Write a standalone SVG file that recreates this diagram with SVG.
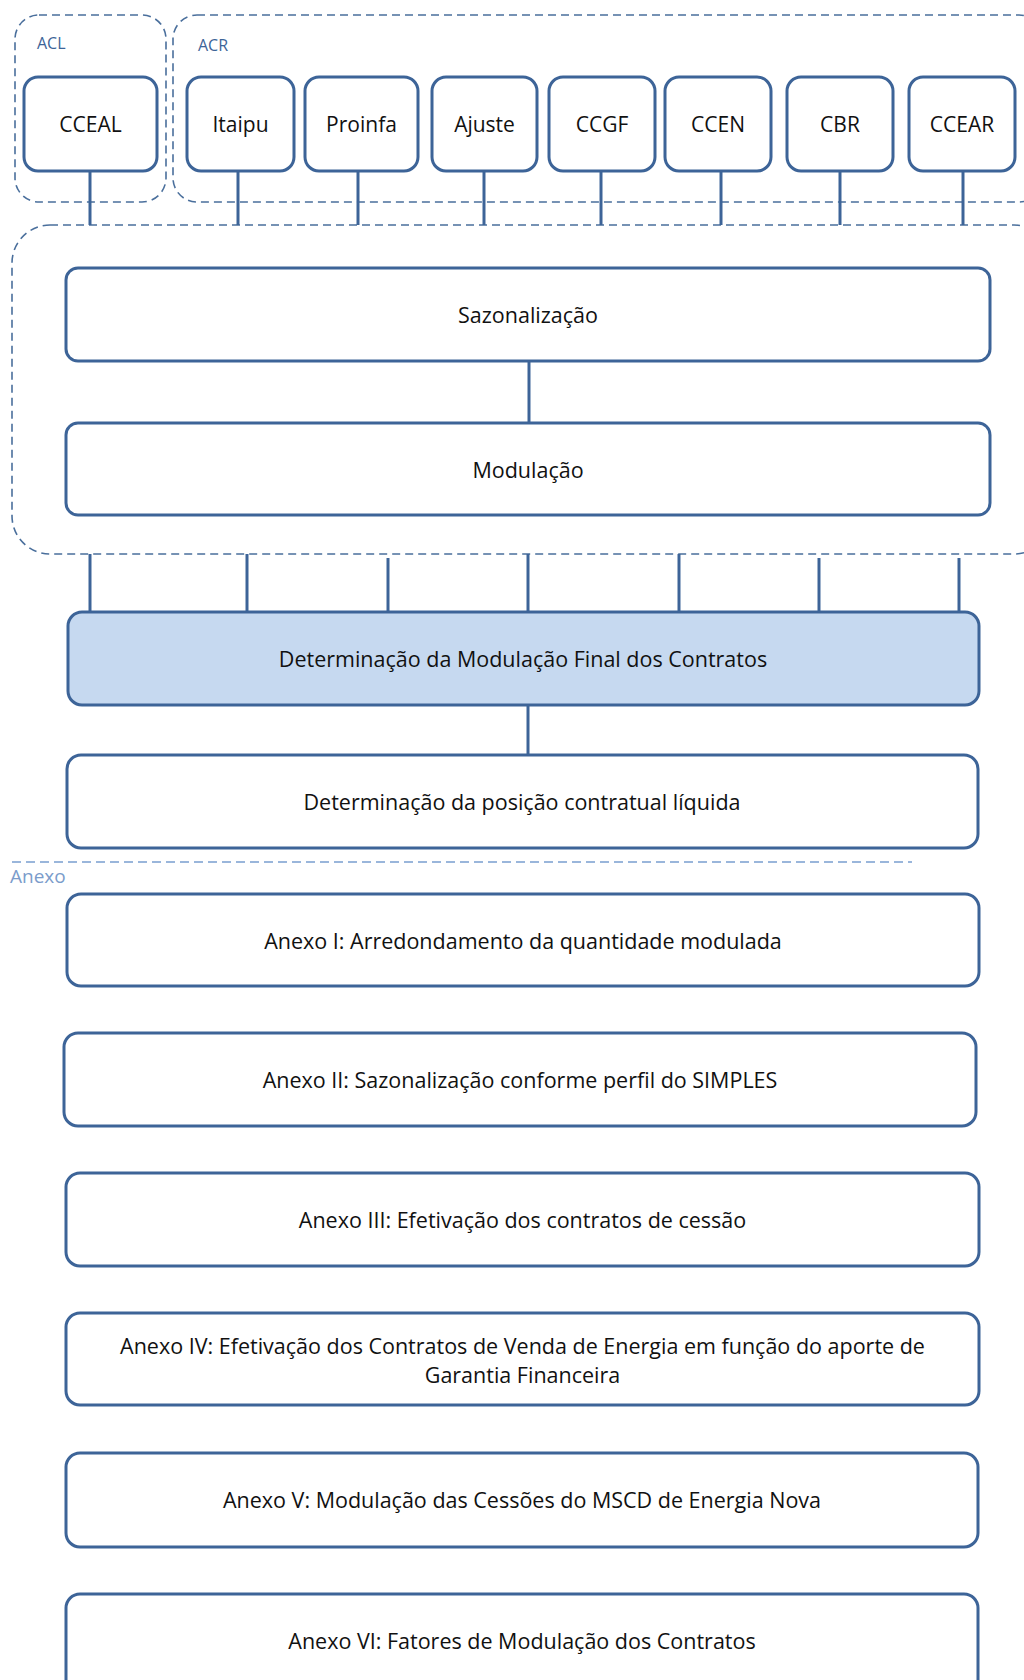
<svg xmlns="http://www.w3.org/2000/svg" width="1024" height="1680" viewBox="0 0 1024 1680">
<style>
.node{fill:#fff;stroke:#3d6498;stroke-width:3}
.hl{fill:#c6d9f0}
.grp{fill:none;stroke:#4a6f9c;stroke-width:1.6;stroke-dasharray:8 5}
.sep{fill:none;stroke:#9ab6db;stroke-width:2;stroke-dasharray:9 5}
.conn{stroke:#3d6498;stroke-width:3;fill:none}
.t{font-family:"Open Sans","Liberation Sans",sans-serif;font-size:21.5px;fill:#111;text-anchor:middle;dominant-baseline:central}
.s{font-size:21px}
.lbl{font-family:"Open Sans","Liberation Sans",sans-serif;font-size:16px;fill:#3d6498}
</style>
<rect width="1024" height="1680" fill="#fff"/>
<g id="groups">
<rect id="grp-acl" class="grp" x="15" y="15" width="151" height="187" rx="24"/>
<text class="lbl" x="37" y="49">ACL</text>
<rect id="grp-acr" class="grp" x="173" y="15" width="870" height="187" rx="24"/>
<text class="lbl" x="198" y="51">ACR</text>
<rect id="grp-proc" class="grp" x="12" y="225" width="1040" height="329" rx="38"/>
<line class="sep" x1="12" y1="862" x2="912" y2="862"/>
<text x="10" y="883" style="font-family:'Open Sans','Liberation Sans',sans-serif;font-size:19px;fill:#7b9ccb">Anexo</text>
</g>
<g id="connectors">
<line class="conn" x1="90" y1="171" x2="90" y2="225"/>
<line class="conn" x1="238" y1="171" x2="238" y2="225"/>
<line class="conn" x1="358" y1="171" x2="358" y2="225"/>
<line class="conn" x1="484" y1="171" x2="484" y2="225"/>
<line class="conn" x1="601" y1="171" x2="601" y2="225"/>
<line class="conn" x1="721" y1="171" x2="721" y2="225"/>
<line class="conn" x1="840" y1="171" x2="840" y2="225"/>
<line class="conn" x1="963" y1="171" x2="963" y2="225"/>
<line class="conn" x1="529" y1="361" x2="529" y2="423"/>
<line class="conn" x1="90" y1="554" x2="90" y2="612"/>
<line class="conn" x1="247" y1="554" x2="247" y2="612"/>
<line class="conn" x1="388" y1="558" x2="388" y2="612"/>
<line class="conn" x1="528" y1="554" x2="528" y2="612"/>
<line class="conn" x1="679" y1="554" x2="679" y2="612"/>
<line class="conn" x1="819" y1="558" x2="819" y2="612"/>
<line class="conn" x1="959" y1="558" x2="959" y2="612"/>
<line class="conn" x1="528" y1="703" x2="528" y2="755"/>
</g>
<g id="n-cceal"><rect class="node" x="24" y="77" width="133" height="94" rx="14"/><text class="t s" x="90.5" y="124">CCEAL</text></g>
<g id="n-itaipu"><rect class="node" x="187" y="77" width="107" height="94" rx="14"/><text class="t s" x="240.5" y="124">Itaipu</text></g>
<g id="n-proinfa"><rect class="node" x="305" y="77" width="113" height="94" rx="14"/><text class="t s" x="361.5" y="124">Proinfa</text></g>
<g id="n-ajuste"><rect class="node" x="432" y="77" width="105" height="94" rx="14"/><text class="t s" x="484.5" y="124">Ajuste</text></g>
<g id="n-ccgf"><rect class="node" x="549" y="77" width="106" height="94" rx="14"/><text class="t s" x="602" y="124">CCGF</text></g>
<g id="n-ccen"><rect class="node" x="665" y="77" width="106" height="94" rx="14"/><text class="t s" x="718" y="124">CCEN</text></g>
<g id="n-cbr"><rect class="node" x="787" y="77" width="106" height="94" rx="14"/><text class="t s" x="840" y="124">CBR</text></g>
<g id="n-ccear"><rect class="node" x="909" y="77" width="106" height="94" rx="14"/><text class="t s" x="962" y="124">CCEAR</text></g>
<g id="n-sazon"><rect class="node" x="66" y="268" width="924" height="93" rx="12"/><text class="t" x="528" y="314.5">Sazonalização</text></g>
<g id="n-modul"><rect class="node" x="66" y="423" width="924" height="92" rx="12"/><text class="t" x="528" y="469">Modulação</text></g>
<g id="n-detmod"><rect class="node hl" x="68" y="612" width="911" height="93" rx="14"/><text class="t" x="523" y="658.5">Determinação da Modulação Final dos Contratos</text></g>
<g id="n-detpos"><rect class="node" x="67" y="755" width="911" height="93" rx="14"/><text class="t" x="522" y="801.5">Determinação da posição contratual líquida</text></g>
<g id="n-anexo1"><rect class="node" x="67" y="894" width="912" height="92" rx="14"/><text class="t" x="523" y="940">Anexo I: Arredondamento da quantidade modulada</text></g>
<g id="n-anexo2"><rect class="node" x="64" y="1033" width="912" height="93" rx="14"/><text class="t" x="520" y="1079.5">Anexo II: Sazonalização conforme perfil do SIMPLES</text></g>
<g id="n-anexo3"><rect class="node" x="66" y="1173" width="913" height="93" rx="14"/><text class="t" x="522.5" y="1219.5">Anexo III: Efetivação dos contratos de cessão</text></g>
<g id="n-anexo4"><rect class="node" x="66" y="1313" width="913" height="92" rx="14"/><text class="t" x="522.5" y="1345">Anexo IV: Efetivação dos Contratos de Venda de Energia em função do aporte de</text><text class="t" x="522.5" y="1374">Garantia Financeira</text></g>
<g id="n-anexo5"><rect class="node" x="66" y="1453" width="912" height="94" rx="14"/><text class="t" x="522" y="1499">Anexo V: Modulação das Cessões do MSCD de Energia Nova</text></g>
<g id="n-anexo6"><rect class="node" x="66" y="1594" width="912" height="110" rx="14"/><text class="t" x="522" y="1640">Anexo VI: Fatores de Modulação dos Contratos</text></g>
</svg>
